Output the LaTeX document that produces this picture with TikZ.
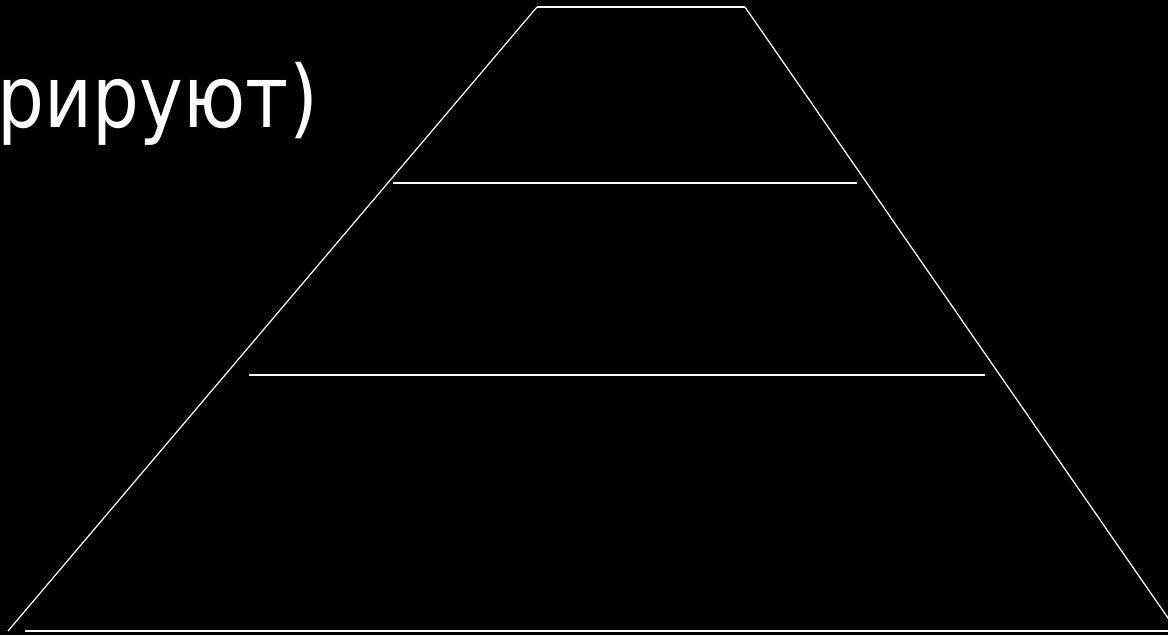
\documentclass[tikz,border=0pt]{standalone}
\usepackage{fontspec}
\newfontfamily\slidefont[FakeStretch=0.86]{DejaVu Sans}
\definecolor{slideblack}{RGB}{0,0,0}
\definecolor{lineswhite}{RGB}{255,255,255}
\usetikzlibrary{calc}

\begin{document}
\begin{tikzpicture}[x=1pt,y=-1pt]
    % Background
    \fill[slideblack] (0,0) rectangle (1168,635);
    \useasboundingbox (0,0) rectangle (1168,635);
    \clip (0,0) rectangle (1168,635);

    % Outline
    \coordinate (topL) at (537,7);
    \coordinate (topR) at (745,7);
    \coordinate (botL) at (8,631);
    \coordinate (botR) at (1177,631);
    \draw[lineswhite, line width=1.2pt] (botL) -- (topL);
    \draw[lineswhite, line width=1.8pt] (topL) -- (topR);
    \draw[lineswhite, line width=1.2pt] (topR) -- (botR);

    % Levels
    \draw[lineswhite, line width=1.8pt] (393,183) -- (857,183);
    \draw[lineswhite, line width=1.8pt] (249,375) -- (985,375);
    \draw[lineswhite, line width=1.8pt] (25,631) -- (1168,631);

    % Text
    \node[anchor=base east, inner sep=0pt, text=lineswhite,
          font=\slidefont\fontsize{86}{96}\selectfont] (title) at (318,127) {рируют)};
\end{tikzpicture}
\end{document}
